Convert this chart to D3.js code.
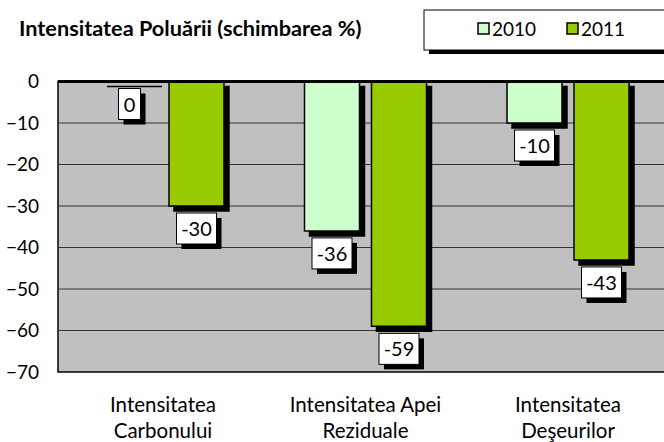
<!DOCTYPE html>
<html>
<head>
<meta charset="utf-8">
<script src="https://cdn.jsdelivr.net/npm/d3@7"></script>
<style>
  body { margin: 0; background: #fff; }
  svg { display: block; font-family: Lato, "Liberation Sans", sans-serif; }
</style>
</head>
<body>
<div id="chart"></div>
<script>
// chart data
const categories = [['Intensitatea', 'Carbonului'], ['Intensitatea Apei', 'Reziduale'], ['Intensitatea', 'Deşeurilor']];
const seriesNames = ['2010', '2011'];
const values2010 = [0, -36, -10];
const values2011 = [-30, -59, -43];
const yTicks = [0, -10, -20, -30, -40, -50, -60, -70];
const colors = ['#CCFFCC', '#99CC00'];

const width = 664;
const height = 442;
const plot = {left: 58, top: 81.5, right: 672, bottom: 372};

const svg = d3.select('#chart')
    .append('svg')
    .attr('width', width)
    .attr('height', height);

const y = d3.scaleLinear()
    .domain([0, -70])
    .range([plot.top, plot.bottom]);

const x = d3.scaleBand()
    .domain(d3.range(categories.length))
    .range([61.75, 669.25]);

const xInner = d3.scaleBand()
    .domain(seriesNames)
    .range([-61, 61])
    .paddingInner(0.179);

// plot background
svg.append('rect')
    .attr('x', plot.left)
    .attr('y', plot.top)
    .attr('width', plot.right - plot.left)
    .attr('height', plot.bottom - plot.top)
    .attr('fill', '#C0C0C0')
    .attr('stroke', '#000')
    .attr('stroke-width', 1.5);

// gridlines
svg.append('g')
    .selectAll('line')
    .data(yTicks.slice(1, -1))
    .enter().append('line')
    .attr('x1', plot.left)
    .attr('x2', plot.right)
    .attr('y1', d => y(d))
    .attr('y2', d => y(d))
    .attr('stroke', '#333')
    .attr('stroke-width', 1);

// y axis labels
const yAxis = svg.append('g')
    .attr('transform', `translate(${plot.left},0)`)
    .call(d3.axisLeft(y).tickValues(yTicks).tickSize(0).tickPadding(19));
yAxis.select('.domain').remove();
yAxis.selectAll('text')
    .attr('font-size', 19)
    .attr('font-family', 'Lato, sans-serif')
    .attr('fill', '#000');

// bars
const rows = [];
categories.forEach((c, i) => {
    rows.push({cat: i, s: '2010', v: values2010[i], color: colors[0]});
    rows.push({cat: i, s: '2011', v: values2011[i], color: colors[1]});
});

const barPath = (d, off) => {
    const x0 = x(d.cat) + x.bandwidth() / 2 + xInner(d.s) + off;
    const x1 = x0 + xInner.bandwidth();
    const y0 = y(0) + off;
    const y1 = y(d.v) + off;
    return `M${x0},${y0}H${x1}V${y1}H${x0}Z`;
};

const bars = svg.append('g');
bars.selectAll('.shadow')
    .data(rows)
    .enter().append('path')
    .attr('class', 'shadow')
    .attr('d', d => barPath(d, 5))
    .attr('fill', '#000')
    .attr('stroke', '#000')
    .attr('stroke-width', 1.5);

bars.selectAll('.bar')
    .data(rows)
    .enter().append('path')
    .attr('class', 'bar')
    .attr('d', d => barPath(d, 0))
    .attr('fill', d => d.color)
    .attr('stroke', '#000')
    .attr('stroke-width', 1.5);

// category axis at zero (thick line)
svg.append('line')
    .attr('x1', plot.left)
    .attr('x2', plot.right)
    .attr('y1', y(0))
    .attr('y2', y(0))
    .attr('stroke', '#000')
    .attr('stroke-width', 3);

// data labels
const labels = svg.append('g')
    .selectAll('g')
    .data(rows)
    .enter().append('g')
    .attr('transform', d => `translate(${x(d.cat) + x.bandwidth() / 2 + xInner(d.s) + xInner.bandwidth() / 2},${y(d.v) + 7})`);

labels.each(function(d) {
    const g = d3.select(this);
    const w = d.v === 0 ? 22 : 40;
    g.append('rect')
        .attr('x', -w / 2 + 5)
        .attr('y', 5)
        .attr('width', w)
        .attr('height', 31)
        .attr('fill', '#000');
    g.append('rect')
        .attr('x', -w / 2)
        .attr('y', 0)
        .attr('width', w)
        .attr('height', 31)
        .attr('fill', '#fff')
        .attr('stroke', '#000')
        .attr('stroke-width', 1);
    g.append('text')
        .attr('x', 0)
        .attr('y', 23)
        .attr('text-anchor', 'middle')
        .attr('font-size', 20)
        .text(d.v);
});

// category labels
const catLabels = svg.append('g')
    .selectAll('text')
    .data(categories)
    .enter().append('text')
    .attr('x', (d, i) => x(i) + x.bandwidth() / 2)
    .attr('y', 412)
    .attr('text-anchor', 'middle')
    .attr('font-size', 20.5);
catLabels.append('tspan')
    .attr('x', (d, i) => x(i) + x.bandwidth() / 2)
    .text(d => d[0]);
catLabels.append('tspan')
    .attr('x', (d, i) => x(i) + x.bandwidth() / 2)
    .attr('dy', 26)
    .text(d => d[1]);

// title
svg.append('text')
    .attr('x', 19)
    .attr('y', 36)
    .attr('font-size', 21.7)
    .attr('font-weight', 'bold')
    .text('Intensitatea Poluării (schimbarea %)');

// legend
const legend = svg.append('g');
legend.append('rect')
    .attr('x', 429)
    .attr('y', 14)
    .attr('width', 300)
    .attr('height', 40)
    .attr('fill', '#000');
legend.append('rect')
    .attr('x', 424)
    .attr('y', 10)
    .attr('width', 300)
    .attr('height', 40)
    .attr('fill', '#fff')
    .attr('stroke', '#000')
    .attr('stroke-width', 1);

const legendX = [478, 567];
const items = legend.selectAll('.item')
    .data(seriesNames)
    .enter().append('g')
    .attr('class', 'item')
    .attr('transform', (d, i) => `translate(${legendX[i]},0)`);
items.append('rect')
    .attr('x', 0)
    .attr('y', 23)
    .attr('width', 11)
    .attr('height', 11)
    .attr('fill', (d, i) => colors[i])
    .attr('stroke', '#000')
    .attr('stroke-width', 1.5);
items.append('text')
    .attr('x', 14)
    .attr('y', 36)
    .attr('font-size', 19)
    .text(d => d);
</script>
</body>
</html>
